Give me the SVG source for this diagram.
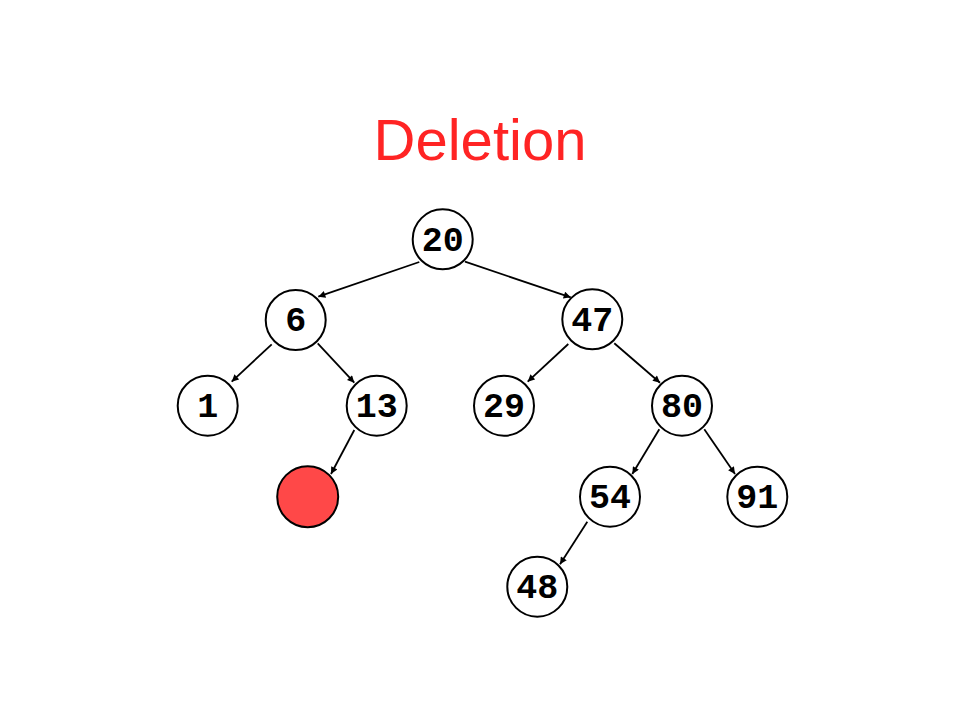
<svg xmlns="http://www.w3.org/2000/svg" width="960" height="720" viewBox="0 0 960 720">
<defs>
<style>
.n circle{fill:#fff;stroke:#000;stroke-width:2}
.n text{font-family:"Liberation Mono","Courier New",monospace;font-weight:bold;font-size:35px;text-anchor:middle;fill:#000}
#edges line{stroke:#000;stroke-width:1.8;marker-end:url(#ah)}
.title{font-family:"Liberation Sans",Arial,sans-serif;font-size:58px;fill:#FF2424;text-anchor:middle}
</style>
<marker id="ah" viewBox="0 0 10 10" refX="10" refY="5" markerWidth="8" markerHeight="7" markerUnits="userSpaceOnUse" orient="auto">
<path d="M0,0 L10,5 L0,10 Z" fill="#000"/>
</marker>
</defs>
<rect width="960" height="720" fill="#fff"/>
<text class="title" x="480" y="160">Deletion</text>
<g id="edges">
<line x1="419.3" y1="262" x2="318.3" y2="296.7"/>
<line x1="465" y1="261.7" x2="570.7" y2="297.3"/>
<line x1="271.7" y1="344.3" x2="231.7" y2="381.7"/>
<line x1="317.7" y1="343.3" x2="354.3" y2="382.7"/>
<line x1="354.3" y1="430" x2="331" y2="474"/>
<line x1="568.3" y1="344" x2="527.7" y2="381.7"/>
<line x1="614.3" y1="343.3" x2="660" y2="382.7"/>
<line x1="659.3" y1="429.3" x2="632.3" y2="474"/>
<line x1="704.3" y1="429.3" x2="735" y2="474"/>
<line x1="587.3" y1="521.7" x2="560" y2="564.3"/>
</g>
<g id="n20" class="n"><circle cx="442.7" cy="239.3" r="30"/><text x="442.7" y="250.5">20</text></g>
<g id="n6" class="n"><circle cx="295.7" cy="320" r="30"/><text x="295.7" y="331.2">6</text></g>
<g id="n47" class="n"><circle cx="592.3" cy="319.3" r="30"/><text x="592.3" y="330.5">47</text></g>
<g id="n1" class="n"><circle cx="207.7" cy="405.7" r="30"/><text x="207.7" y="416.9">1</text></g>
<g id="n13" class="n"><circle cx="376.7" cy="405.7" r="30"/><text x="376.7" y="416.9">13</text></g>
<g id="n29" class="n"><circle cx="504" cy="405.7" r="30"/><text x="504" y="416.9">29</text></g>
<g id="n80" class="n"><circle cx="682" cy="405.7" r="30"/><text x="682" y="416.9">80</text></g>
<g id="deleted" class="n"><circle cx="307.7" cy="496.7" r="30.5" style="fill:#FF4848"/></g>
<g id="n54" class="n"><circle cx="610" cy="496.7" r="30"/><text x="610" y="507.9">54</text></g>
<g id="n91" class="n"><circle cx="757.3" cy="496.7" r="30"/><text x="757.3" y="507.9">91</text></g>
<g id="n48" class="n"><circle cx="537.3" cy="586.7" r="30"/><text x="537.3" y="597.9">48</text></g>
</svg>
